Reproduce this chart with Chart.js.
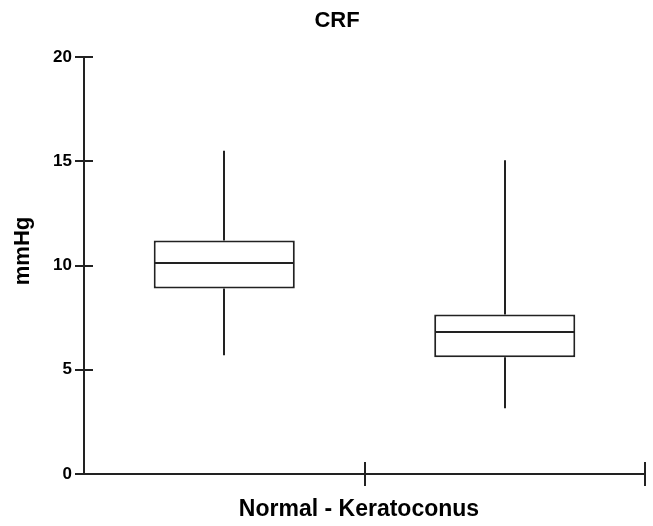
<!DOCTYPE html>
<html>
<head>
<meta charset="utf-8">
<title>CRF</title>
<script src="https://cdn.jsdelivr.net/npm/chart.js@4.4.1/dist/chart.umd.min.js"></script>
<style>
  body { margin: 0; background: #fff; }
  canvas { display: block; }
</style>
</head>
<body>
<canvas id="chart" width="653" height="526"></canvas>
<script>
// box plot values (mmHg)
var groups = ['Normal', 'Keratoconus'];
var minV = [5.7, 3.15];
var q1 = [8.9, 5.6];
var median = [10.1, 6.8];
var q3 = [11.2, 7.65];
var maxV = [15.5, 15.05];
var yTicks = [0, 5, 10, 15, 20];

var lineColor = '#222';
var font = "'Liberation Sans', Arial, sans-serif";

// whiskers, medians, inward tick stubs and titles
var boxPlot = {
  id: 'boxPlot',
  afterDatasetsDraw: function(chart) {
    var ctx = chart.ctx;
    var x = chart.scales.x, y = chart.scales.y;
    var meta = chart.getDatasetMeta(0);
    ctx.save();
    ctx.strokeStyle = lineColor;
    ctx.lineWidth = 2;
    ctx.beginPath();
    meta.data.forEach(function(bar, i) {
      var cx = Math.round(bar.x);
      var half = bar.width / 2;
      ctx.moveTo(cx, y.getPixelForValue(q3[i]));
      ctx.lineTo(cx, y.getPixelForValue(maxV[i]));
      ctx.moveTo(cx, y.getPixelForValue(q1[i]));
      ctx.lineTo(cx, y.getPixelForValue(minV[i]));
      var my = Math.round(y.getPixelForValue(median[i]));
      ctx.moveTo(cx - half + 1, my);
      ctx.lineTo(cx + half - 1, my);
    });
    // inner half of the y ticks
    y.ticks.forEach(function(t, i) {
      var py = Math.round(y.getPixelForTick(i));
      ctx.moveTo(x.left, py);
      ctx.lineTo(x.left + 9, py);
    });
    // inner half of the x ticks (category boundaries)
    var halfCat = (x.right - x.left) / groups.length / 2;
    groups.forEach(function(g, i) {
      var px = Math.round(x.getPixelForValue(i) + halfCat);
      ctx.moveTo(px, y.bottom);
      ctx.lineTo(px, y.bottom - 12);
    });
    ctx.stroke();
    ctx.restore();
  },
  afterDraw: function(chart) {
    var ctx = chart.ctx;
    ctx.save();
    ctx.fillStyle = '#000';
    ctx.textAlign = 'center';
    ctx.textBaseline = 'middle';
    ctx.font = 'bold 22px ' + font;
    ctx.fillText('CRF', 337, 21);
    ctx.font = 'bold 23px ' + font;
    ctx.fillText('Normal - Keratoconus', 359, 510);
    ctx.translate(23, 251);
    ctx.rotate(-Math.PI / 2);
    ctx.font = 'bold 22px ' + font;
    ctx.fillText('mmHg', 0, 0);
    ctx.restore();
  }
};

var boxes = q1.map(function(v, i) { return [v, q3[i]]; });

new Chart(document.getElementById('chart'), {
  type: 'bar',
  data: {
    labels: groups,
    datasets: [{
      data: boxes,
      backgroundColor: '#fff',
      borderColor: lineColor,
      borderWidth: 2,
      borderSkipped: false,
      barPercentage: 0.503,
      categoryPercentage: 1
    }]
  },
  options: {
    responsive: false,
    animation: false,
    events: [],
    layout: { padding: { left: 0, right: 8, top: 57, bottom: 0 } },
    plugins: {
      legend: { display: false },
      tooltip: { enabled: false },
      title: { display: false }
    },
    scales: {
      x: {
        offset: true,
        ticks: { display: false },
        grid: {
          offset: true,
          drawOnChartArea: false,
          tickLength: 12,
          lineWidth: 2,
          color: function(c) { return c.index === 0 ? 'rgba(0,0,0,0)' : lineColor; }
        },
        border: { display: true, color: lineColor, width: 2 },
        afterFit: function(s) { s.height = 52; }
      },
      y: {
        min: yTicks[0],
        max: yTicks[yTicks.length - 1],
        afterBuildTicks: function(s) {
          s.ticks = yTicks.map(function(v) { return { value: v }; });
        },
        ticks: {
          color: '#000',
          padding: 3,
          font: { family: font, size: 17, weight: 'bold' }
        },
        grid: {
          drawOnChartArea: false,
          tickLength: 9,
          lineWidth: 2,
          color: lineColor
        },
        border: { display: true, color: lineColor, width: 2 },
        afterFit: function(s) { s.width = 84; }
      }
    }
  },
  plugins: [boxPlot]
});
</script>
</body>
</html>
